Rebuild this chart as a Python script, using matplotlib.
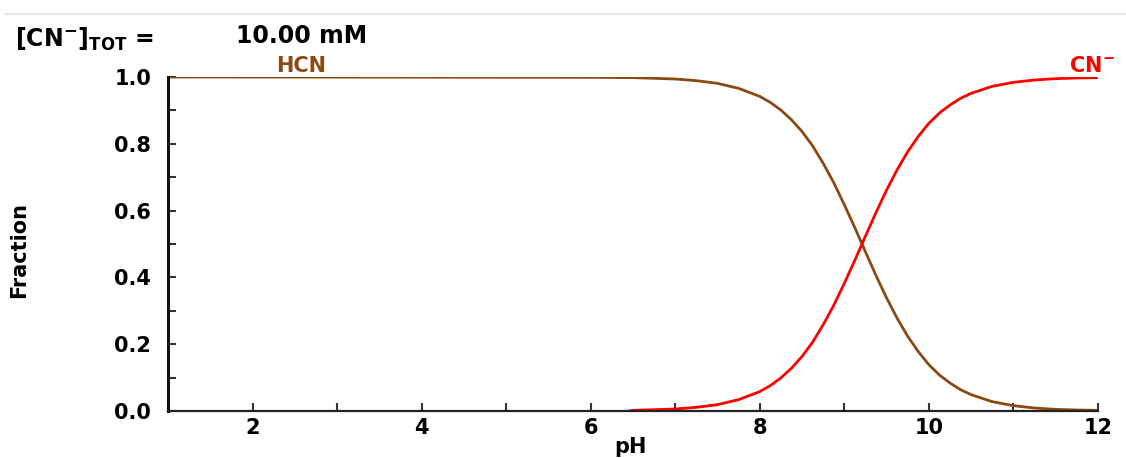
import matplotlib
matplotlib.use("Agg")
import matplotlib.pyplot as plt
from matplotlib.lines import Line2D
from matplotlib.ticker import MultipleLocator

plt.rcParams["font.family"] = ["DejaVu Sans"]
plt.rcParams["font.weight"] = "bold"
plt.rcParams["mathtext.fontset"] = "custom"
plt.rcParams["mathtext.rm"] = "DejaVu Sans:bold"
plt.rcParams["mathtext.bf"] = "DejaVu Sans:bold"

# Fraction of total cyanide present as HCN and CN- versus pH
ph_hcn = [1.0, 6.0, 6.5, 7.0, 7.25, 7.5, 7.75, 8.0, 8.125, 8.25, 8.375, 8.5,
          8.625, 8.75, 8.875, 9.0, 9.125, 9.25, 9.375, 9.5, 9.625, 9.75,
          9.875, 10.0, 10.125, 10.25, 10.375, 10.5, 10.75, 11.0, 11.25,
          11.5, 11.75, 12.0]
frac_hcn = [1.000, 0.999, 0.998, 0.994, 0.989, 0.981, 0.966, 0.942, 0.924,
            0.901, 0.872, 0.837, 0.794, 0.742, 0.684, 0.618, 0.549, 0.477,
            0.406, 0.339, 0.278, 0.224, 0.178, 0.139, 0.108, 0.084, 0.064,
            0.049, 0.028, 0.016, 0.009, 0.005, 0.003, 0.002]

ph_cn = [6.45, 6.5, 7.0, 7.25, 7.5, 7.75, 8.0, 8.125, 8.25, 8.375, 8.5,
         8.625, 8.75, 8.875, 9.0, 9.125, 9.25, 9.375, 9.5, 9.625, 9.75,
         9.875, 10.0, 10.125, 10.25, 10.375, 10.5, 10.75, 11.0, 11.25,
         11.5, 11.75, 12.0]
frac_cn = [0.000, 0.002, 0.006, 0.011, 0.019, 0.034, 0.058, 0.076, 0.099,
           0.128, 0.163, 0.206, 0.258, 0.316, 0.382, 0.451, 0.523, 0.594,
           0.661, 0.722, 0.776, 0.822, 0.861, 0.892, 0.916, 0.936, 0.951,
           0.972, 0.984, 0.991, 0.995, 0.997, 0.998]

x_ticks = [2, 4, 6, 8, 10, 12]
y_ticks = [0.0, 0.2, 0.4, 0.6, 0.8, 1.0]

hcn_color = "#8B4A12"
cn_color = "#FF0000"

W, H = 1126, 458
fig = plt.figure(figsize=(W / 100, H / 100), dpi=100)
ax = fig.add_axes([0.1492, 0.1026, 0.8258, 0.7293])

ax.plot(ph_hcn, frac_hcn, color=hcn_color, lw=2.0, solid_capstyle="butt")
ax.plot(ph_cn, frac_cn, color=cn_color, lw=2.0, solid_capstyle="butt")

ax.set_xlim(1, 12)
ax.set_ylim(0, 1.0)
ax.set_xticks(x_ticks)
ax.set_yticks(y_ticks)
ax.set_yticklabels([f"{v:.1f}" for v in y_ticks])
ax.xaxis.set_minor_locator(MultipleLocator(1))
ax.yaxis.set_minor_locator(MultipleLocator(0.1))

for side in ("top", "right"):
    ax.spines[side].set_visible(False)
ax.spines["left"].set_linewidth(2.2)
ax.spines["bottom"].set_linewidth(1.6)
ax.spines["left"].set_color("#111111")
ax.spines["bottom"].set_color("#222222")

ax.tick_params(axis="both", which="both", direction="in", width=1.5,
               color="#333333")
ax.tick_params(axis="both", which="both", length=6)
ax.tick_params(axis="y", which="both", pad=12, labelsize=15)
ax.tick_params(axis="x", which="both", pad=5, labelsize=15)
for lab in ax.get_xticklabels() + ax.get_yticklabels():
    lab.set_fontweight("bold")

# axis titles placed in figure pixels
fig.text(630 / W, 1 - 447 / H, "pH", fontsize=15, fontweight="bold",
         ha="center", va="center")
fig.text(19 / W, 1 - 250 / H, "Fraction", fontsize=15, fontweight="bold",
         ha="center", va="center", rotation=90)

ax.text(2.57, 1.003, "HCN", color=hcn_color, fontsize=15, fontweight="bold",
        ha="center", va="bottom")
ax.text(12.2, 1.003, r"CN$^{-}$", color=cn_color, fontsize=15,
        fontweight="bold", ha="right", va="bottom")

fig.text(15 / W, 1 - 39 / H, r"[CN$^{-}$]$_{\mathrm{TOT}}$ =", fontsize=17,
         fontweight="bold", ha="left", va="center")
fig.text(236 / W, 1 - 36 / H, "10.00 mM", fontsize=17, fontweight="bold",
         ha="left", va="center")

fig.add_artist(Line2D([0.005, 1.0], [1 - 14 / H, 1 - 14 / H],
                      transform=fig.transFigure, color="#e6e6e6", lw=1.5))

fig.savefig("out.png", dpi=100)
